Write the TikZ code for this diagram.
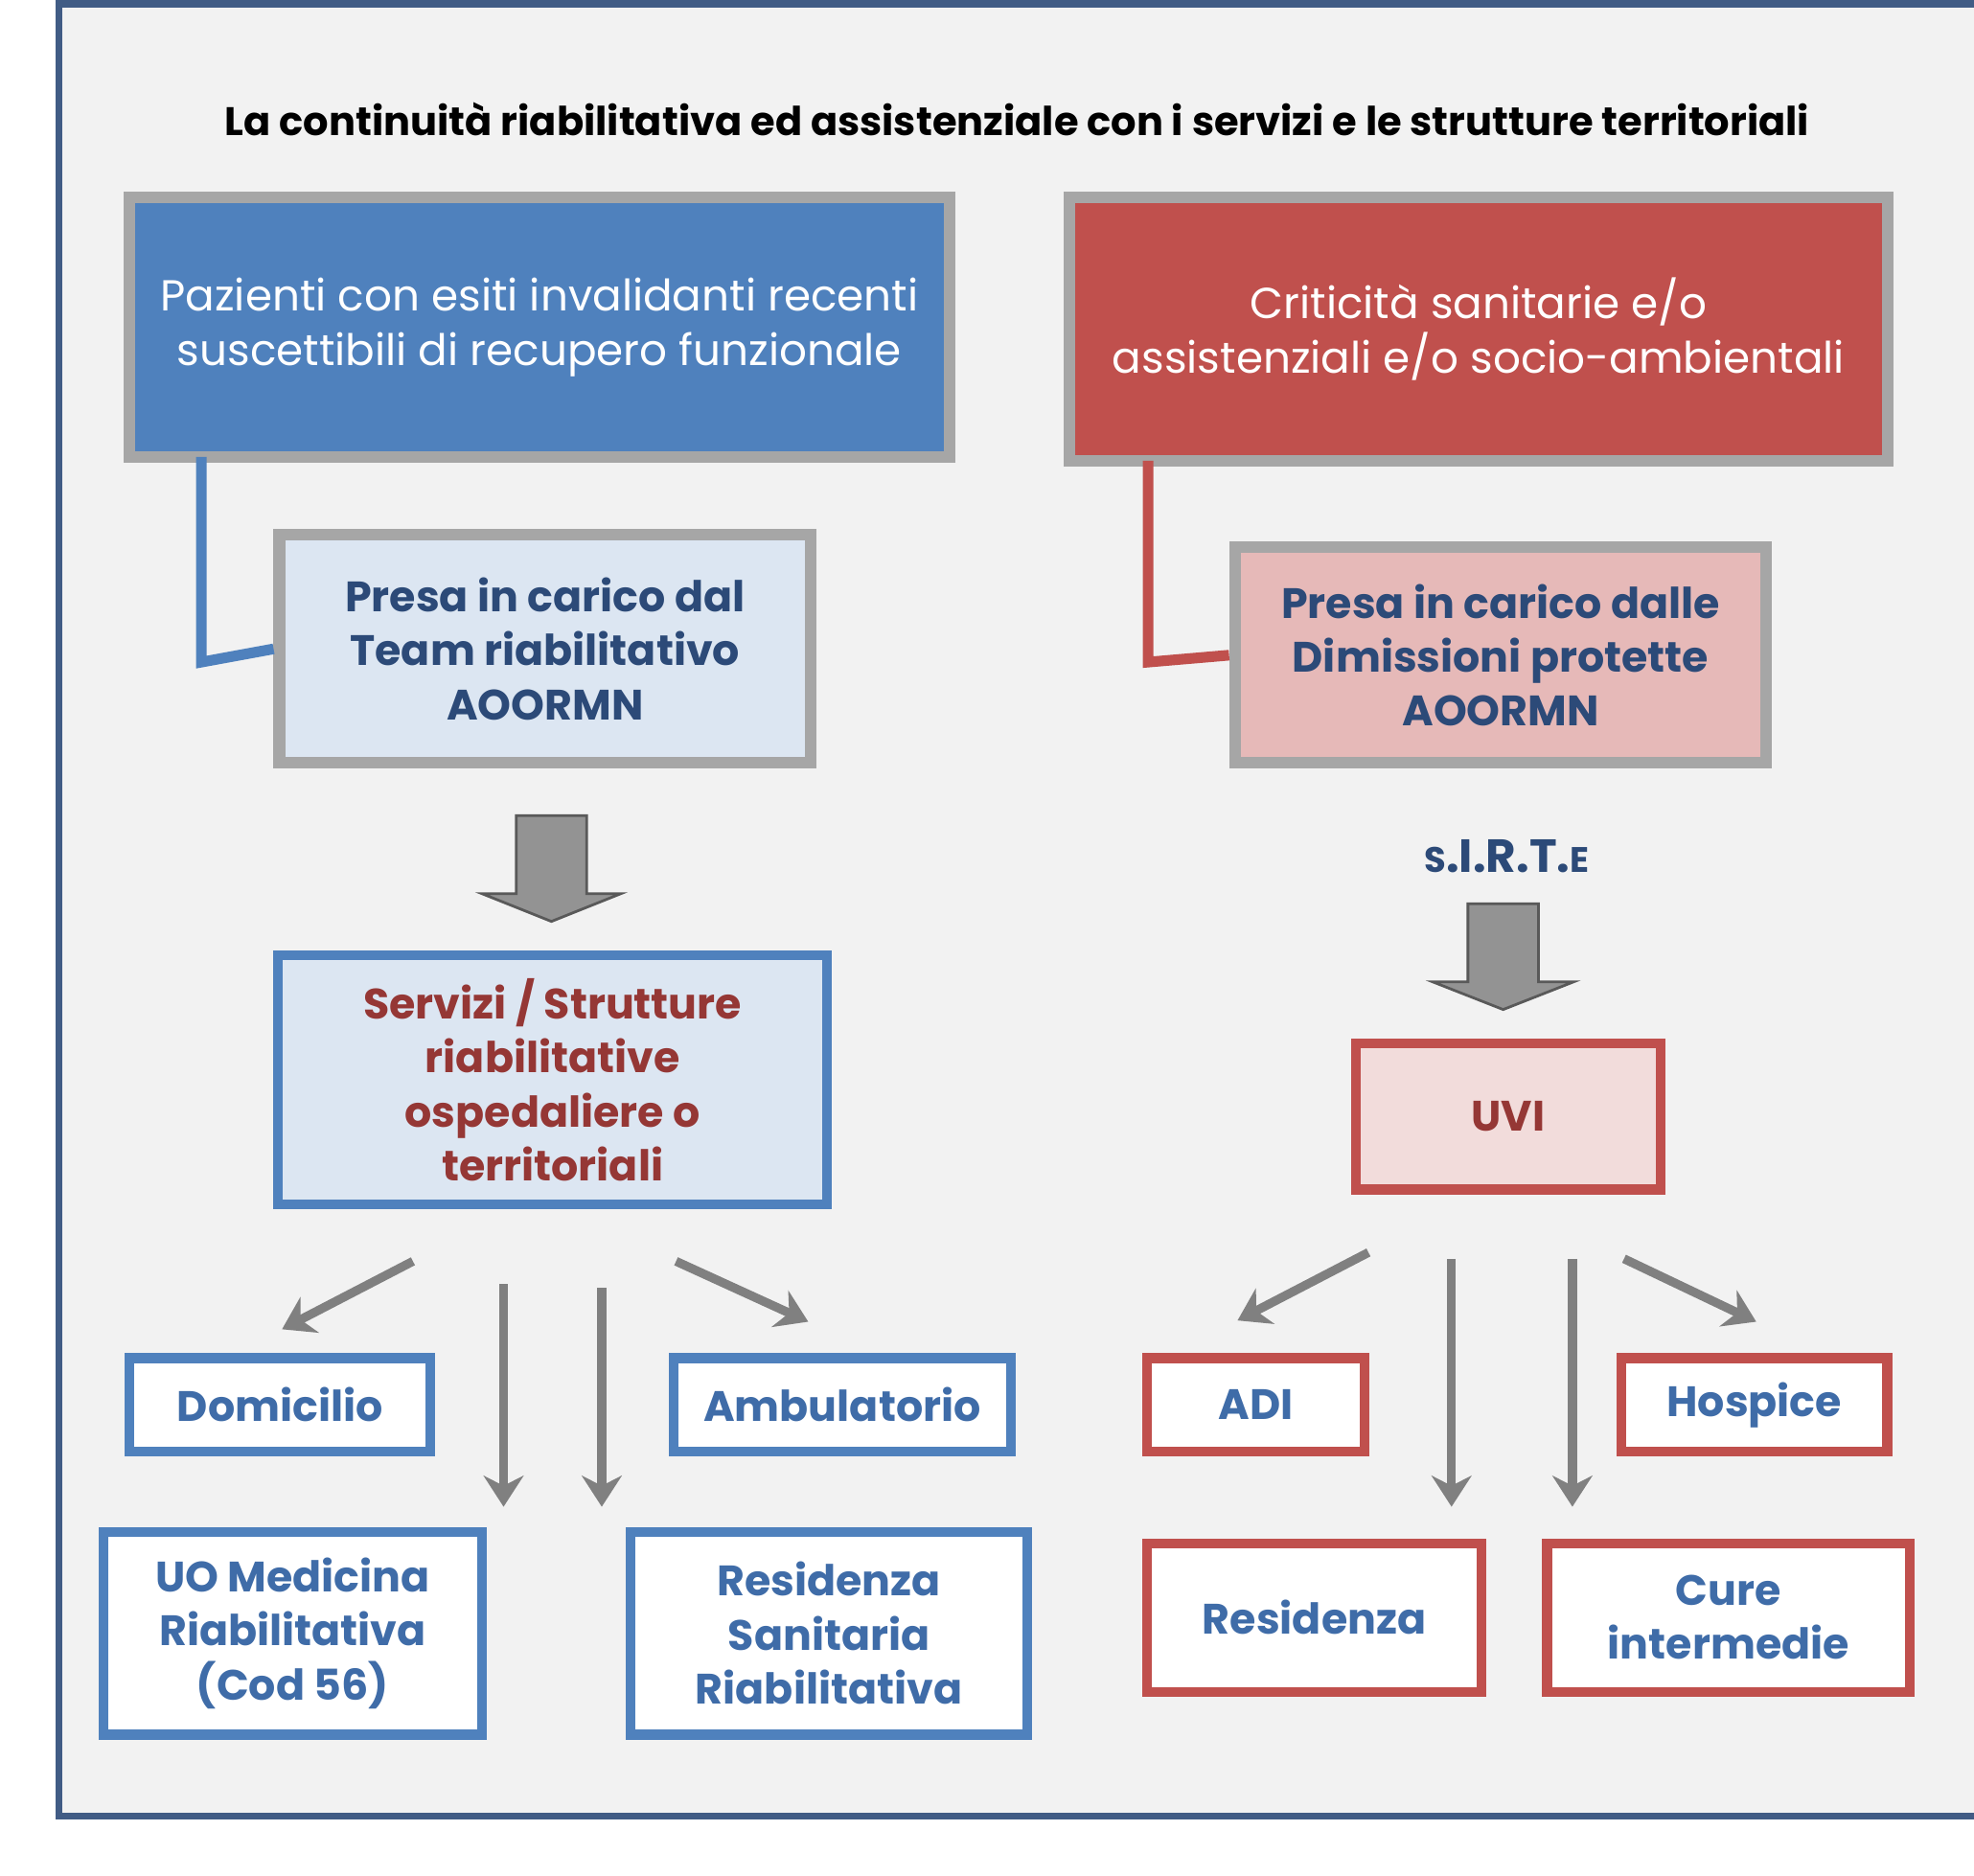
\documentclass[tikz,border=0pt]{standalone}
\usepackage{fontspec}
\usetikzlibrary{arrows.meta}
\setmainfont{Poppins}
\begin{document}
\begin{tikzpicture}[x=0.01cm,y=-0.01cm,
 bx/.style={draw,line width=2.2pt,align=center,inner sep=0pt,font=\fontsize{9.6}{12.2}\selectfont\bfseries},
 gb/.style={bx,draw=gray!70,line width=2.6pt},
 bl/.style={bx,draw=blu,fill=white,text=tb},
 rd/.style={bx,draw=red1,fill=white,text=tb},
 ga/.style={draw=gray,line width=2pt,-{Stealth[length=7pt,width=9pt]}},
 blk/.style={fill=gray!85,draw=gray!70!black,line width=0.6pt}]
\definecolor{blu}{HTML}{4F81BD}\definecolor{red1}{HTML}{C0504D}
\definecolor{tb}{HTML}{3F6CA8}\definecolor{dk}{HTML}{2C4A78}\definecolor{dr}{HTML}{953735}
\useasboundingbox (0,0) rectangle (1568,1490);
\draw[draw=dk!90,line width=1.6pt,fill=gray!10] (47,3) rectangle (1575,1443);
\node (title) at (808,95) {\fontsize{9}{12}\selectfont\bfseries La continuità riabilitativa ed assistenziale con i servizi e le strutture territoriali};
\node[gb,fill=blu,text=white,minimum width=6.51cm,minimum height=2.06cm,font=\fontsize{9.8}{12.4}\selectfont] (pz) at (428.5,260) {Pazienti con esiti invalidanti recenti\\suscettibili di recupero funzionale};
\node[gb,fill=red1,text=white,minimum width=6.49cm,minimum height=2.09cm,font=\fontsize{9.8}{12.4}\selectfont] (cr) at (1174.5,261.5) {Criticità sanitarie e/o\\assistenziali e/o socio-ambientali};
\node[gb,fill=blu!20,text=dk,minimum width=4.22cm,minimum height=1.81cm] (tm) at (433,515.5) {Presa in carico dal\\Team riabilitativo\\AOORMN};
\node[gb,fill=red1!40,text=dk,minimum width=4.22cm,minimum height=1.71cm] (dp) at (1192,520.5) {Presa in carico dalle\\Dimissioni protette\\AOORMN};
\coordinate (c1) at (160,526); \coordinate (c2) at (912,526);
\draw[blu,line width=2.4pt] (160,363) -- (c1) -- (tm.west);
\draw[red1,line width=2.4pt] (912,366) -- (c2) -- (dp.west);
\draw[blk] (410,648) -- (466,648) -- (466,710) -- (493,710) -- (438,732) -- (383,710) -- (410,710) -- cycle;
\node[text=dk,font=\fontsize{10.5}{13}\selectfont\bfseries] (sirte) at (1197,680) {{\fontsize{8}{10}\selectfont S}.I.R.T.{\fontsize{8}{10}\selectfont E}};
\draw[blk] (1166,718) -- (1222,718) -- (1222,780) -- (1250,780) -- (1194,802) -- (1138,780) -- (1166,780) -- cycle;
\node[bx,draw=blu,fill=blu!20,text=dr,minimum width=4.36cm,minimum height=1.98cm] (sv) at (439,858) {Servizi / Strutture\\riabilitative\\ospedaliere o\\territoriali};
\node[bx,draw=red1,fill=red1!20,text=dr,minimum width=2.42cm,minimum height=1.16cm] (uvi) at (1198,887) {UVI};
\node[bl,minimum width=2.39cm,minimum height=0.74cm] (dom) at (222.5,1116) {Domicilio};
\node[bl,minimum width=2.68cm,minimum height=0.74cm] (amb) at (669,1116) {Ambulatorio};
\node[bl,minimum width=3.01cm,minimum height=1.61cm] (uo) at (232.5,1297.5) {UO Medicina\\Riabilitativa\\(Cod 56)};
\node[bl,minimum width=3.15cm,minimum height=1.61cm] (rsr) at (658.5,1297.5) {Residenza\\Sanitaria\\Riabilitativa};
\node[rd,minimum width=1.73cm,minimum height=0.74cm] (adi) at (997.5,1116) {ADI};
\node[rd,minimum width=2.11cm,minimum height=0.74cm] (hos) at (1393.5,1116) {Hospice};
\node[rd,minimum width=2.66cm,minimum height=1.18cm] (res) at (1044,1285) {Residenza};
\node[rd,minimum width=2.88cm,minimum height=1.18cm] (cur) at (1373,1285) {Cure\\intermedie};
\coordinate (a1) at (328,1002); \coordinate (a2) at (400,1020); \coordinate (a3) at (478,1023); \coordinate (a4) at (537,1002);
\coordinate (a1e) at (224,1056); \coordinate (a2e) at (400,1197); \coordinate (a3e) at (478,1197); \coordinate (a4e) at (642,1050);
\draw[ga] (a1) -- (a1e); \draw[ga] (a2) -- (a2e); \draw[ga] (a3) -- (a3e); \draw[ga] (a4) -- (a4e);
\coordinate (b1) at (1087,995); \coordinate (b2) at (1153,1000); \coordinate (b3) at (1249,1000); \coordinate (b4) at (1290,1000);
\coordinate (b1e) at (983,1049); \coordinate (b2e) at (1153,1197); \coordinate (b3e) at (1249,1197); \coordinate (b4e) at (1395,1050);
\draw[ga] (b1) -- (b1e); \draw[ga] (b2) -- (b2e); \draw[ga] (b3) -- (b3e); \draw[ga] (b4) -- (b4e);
\end{tikzpicture}
\end{document}
